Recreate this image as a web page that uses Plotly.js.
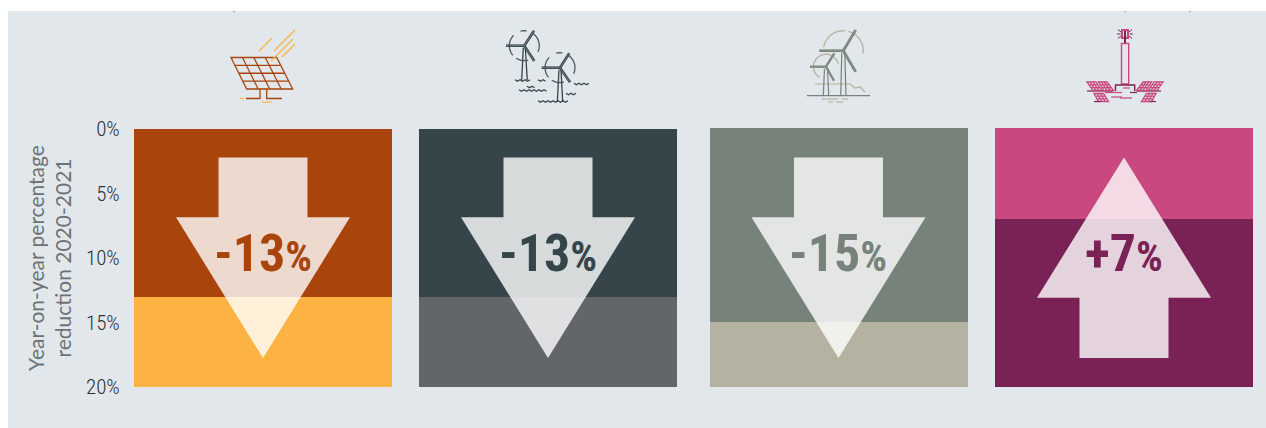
<!DOCTYPE html>
<html>
<head>
<meta charset="utf-8">
<script src="https://cdn.plot.ly/plotly-3.0.1.min.js"></script>
<style>html,body{margin:0;padding:0;background:#fff}#chart{width:1266px;height:428px}</style>
</head>
<body>
<div id="chart"></div>
<script>
// Year-on-year cost changes by renewable technology
const technologies = ['Solar PV', 'Offshore wind', 'Onshore wind', 'Concentrated solar'];
const changes = [-13, -13, -15, 7];
const upperColors = ['#a8440c', '#36454a', '#76827a', '#c8487f'];
const lowerColors = ['#fdb343', '#626569', '#b5b2a2', '#7a2255'];
const labelColors = ['#a8440c', '#36454a', '#76827a', '#7a2255'];
const tickValues = [0, 5, 10, 15, 20];
const tickLabels = ['0%', '5%', '10%', '15%', '20%'];
const axisMax = 20;

const W = 1266, H = 428;
const panelEdges = [[134, 392], [419, 677], [710, 968], [995, 1253]];
const panelTops = [129, 129, 128, 128];
const panelBottom = 387;
const arrowCentres = [263, 548, 838.5, 1124];

const px = x => (x / W).toFixed(6);
const py = y => (1 - y / H).toFixed(6);
const shapes = [];

function addPath(d, opts) {
  shapes.push(Object.assign({type: 'path', xref: 'paper', yref: 'paper', path: d, layer: 'above'}, opts));
}
function stroke(points, color, width, closed) {
  const d = points.map((p, i) => (i ? 'L' : 'M') + px(p[0]) + ' ' + py(p[1])).join(' ') + (closed ? ' Z' : '');
  addPath(d, {line: {color: color, width: width === undefined ? 1.3 : width}});
}
function arc(cx, cy, r, a0, a1, color, width) {
  const pts = [];
  for (let a = a0; a <= a1 + 0.01; a += 12) {
    pts.push([cx + r * Math.cos(a * Math.PI / 180), cy + r * Math.sin(a * Math.PI / 180)]);
  }
  stroke(pts, color, width);
}
function wave(x0, x1, y, color) {
  const pts = [];
  let up = true;
  for (let x = x0; x <= x1; x += 2.5) { pts.push([x, y + (up ? -0.8 : 0.8)]); up = !up; }
  stroke(pts, color, 1.3);
}
function blade(x0, y0, x1, y1, color, width) {
  stroke([[x0, y0], [x1, y1]], color, width);
  stroke([[x0, y0], [x1, y1]], '#8f9b9c', width * 0.25);
}
// Parallelogram solar module with a cell grid
function solarModule(tl, tr, br, bl, rows, cols, color, width) {
  stroke([tl, tr, br, bl], color, width, true);
  const mix = (a, b, t) => [a[0] + (b[0] - a[0]) * t, a[1] + (b[1] - a[1]) * t];
  for (let r = 1; r < rows; r++) stroke([mix(tl, bl, r / rows), mix(tr, br, r / rows)], color, width);
  for (let c = 1; c < cols; c++) stroke([mix(tl, tr, c / cols), mix(bl, br, c / cols)], color, width);
}

// Backdrop
shapes.push({type: 'rect', xref: 'paper', yref: 'paper', layer: 'below',
  x0: 8 / W, x1: 1, y0: 0, y1: 1 - 11 / H, line: {width: 0}, fillcolor: '#e2e7eb'});

// Direction arrows, semi-transparent over the bars
function arrowPoints(cx, direction) {
  const top = 157.5, bottom = 358;
  if (direction < 0) {
    return [[cx - 44.5, top], [cx + 44.5, top], [cx + 44.5, 217.3], [cx + 87, 217.3], [cx, bottom],
            [cx - 87, 217.3], [cx - 44.5, 217.3]];
  }
  return [[cx, top], [cx + 87, 297.7], [cx + 44.5, 297.7], [cx + 44.5, bottom], [cx - 44.5, bottom],
          [cx - 44.5, 297.7], [cx - 87, 297.7]];
}
changes.forEach((v, i) => {
  const d = arrowPoints(arrowCentres[i], v).map((p, k) => (k ? 'L' : 'M') + px(p[0]) + ' ' + py(p[1])).join(' ') + ' Z';
  addPath(d, {fillcolor: 'rgba(255,255,255,0.8)', line: {width: 0}});
});

// Solar panel icon
const rust = '#a8440c', amber = '#fdb343';
solarModule([231, 57.5], [276.7, 57.5], [292.7, 89], [246.7, 89], 4, 4, rust, 1.3);
stroke([[246, 98.5], [260, 98.5], [260, 89]], rust, 1.3);
stroke([[282, 98.5], [266.7, 98.5], [266.7, 89]], rust, 1.3);
[[[259, 51], [272, 38]], [[274, 51], [295, 30]], [[271, 61], [293, 39]], [[282, 57], [295, 44]],
 [[240, 98.5], [244, 98.5]], [[262, 102], [272, 102]]].forEach(s => stroke(s, amber, 1.2));

// Offshore wind icon
const slate = '#36454a';
[[524.3, 45.7, 506, 45.7, 534, 30.7, 534.3, 61, 521.7, 527.3, 80],
 [560, 67.7, 541.7, 67.7, 569.3, 53.3, 570, 82.3, 557.3, 562.7, 102]].forEach(t => {
  blade(t[0], t[1], t[2], t[3], slate, 2.6);
  blade(t[0], t[1], t[4], t[5], slate, 2.6);
  blade(t[0], t[1], t[6], t[7], slate, 2.6);
  stroke([[t[0] - 1, t[1] + 2], [t[8], t[10]]], slate, 1.3);
  stroke([[t[0] + 1, t[1] + 2], [t[9], t[10]]], slate, 1.3);
  arc(t[0], t[1], 15, -60, 25, '#4c5a5f', 1.3);
  arc(t[0], t[1], 15, 75, 125, '#4c5a5f', 1.3);
  arc(t[0], t[1], 15, 140, 235, '#4c5a5f', 1.3);
  arc(t[0], t[1], 15, 255, 285, '#4c5a5f', 1.3);
});
wave(515, 532, 80.5, slate);
wave(538, 547, 80.5, slate);
wave(519, 547, 90.5, slate);
wave(527, 535, 87, slate);
wave(574, 590, 84, slate);
wave(566, 578, 94, slate);
wave(538, 570, 101.5, slate);

// Onshore wind icon
const sage = '#76827a', sand = '#b5b2a2';
arc(843.3, 50.7, 20, -75, 20, sand, 1.3);
arc(843.3, 50.7, 20, 190, 285, sand, 1.3);
arc(826, 66.7, 12.5, 120, 350, sand, 1.3);
stroke([[815, 84], [843, 84], [850, 84], [855, 88], [860, 87], [865, 92]], sand, 1.2);
stroke([[822, 99], [838, 99]], sand, 1.2);
stroke([[842, 99], [848, 99]], sand, 1.2);
stroke([[828, 102], [833, 102]], sand, 1.2);
stroke([[836, 102], [843, 102]], sand, 1.2);
[[843.3, 50.7, 819.3, 50.7, 855.7, 30, 855.7, 71.7, 840.7, 846, 95.7, 2.7],
 [826, 66.7, 810, 66.7, 834.3, 53.3, 834, 80.7, 823.3, 828.7, 95.7, 2.3]].forEach(t => {
  blade(t[0], t[1], t[2], t[3], sage, t[11]);
  blade(t[0], t[1], t[4], t[5], sage, t[11]);
  blade(t[0], t[1], t[6], t[7], sage, t[11]);
  stroke([[t[0] - 1.5, t[1] + 2], [t[8], t[10]]], sage, 1.2);
  stroke([[t[0] + 1.5, t[1] + 2], [t[9], t[10]]], sage, 1.2);
});
stroke([[807, 95.7], [870, 95.7]], sage, 1.3);

// Solar tower icon
const rose = '#c8487f', plum = '#7a2255';
stroke([[1121.5, 43.5], [1128.7, 43.5], [1128.7, 84], [1121.5, 84]], rose, 1.4, true);
stroke([[1122, 30], [1128, 30], [1128, 38], [1122, 38]], rose, 2, true);
stroke([[1125, 31], [1125, 43]], plum, 2);
[[[1118, 29.5], [1121, 32]], [[1117, 34], [1120.5, 34]], [[1118, 38.5], [1121, 36]],
 [[1132, 29.5], [1129, 32]], [[1133, 34], [1129.5, 34]], [[1132, 38.5], [1129, 36]]].forEach(s => stroke(s, plum, 1));
stroke([[1115.5, 91], [1115.5, 85], [1134.7, 85], [1134.7, 91]], plum, 1.4);
stroke([[1087, 91], [1113, 91]], plum, 1.2);
stroke([[1137, 91], [1161, 91]], plum, 1.2);
[[1087, 1096, 1102, 1093, 82, 90.5], [1098.5, 1107, 1113.5, 1104, 82, 90.5],
 [1094, 1103.5, 1108.5, 1098.5, 93.5, 101.5]].forEach(m => {
  solarModule([m[0], m[4]], [m[1], m[4]], [m[2], m[5]], [m[3], m[5]], 3, 3, rose, 1.3);
  const mirror = x => 2250 - x;
  solarModule([mirror(m[1]), m[4]], [mirror(m[0]), m[4]], [mirror(m[3]), m[5]], [mirror(m[2]), m[5]], 3, 3, rose, 1.3);
});
stroke([[1094, 101.5], [1100, 101.5]], plum, 1.2);
stroke([[1150, 101.5], [1156, 101.5]], plum, 1.2);
stroke([[1105, 92.5], [1122, 92.5]], rose, 1.2);
stroke([[1123, 88], [1130, 88]], rose, 1.2);
stroke([[1111, 97], [1122, 97]], rose, 1.2);
stroke([[1120, 98], [1132, 98]], rose, 1.2);
stroke([[1130, 92.5], [1137, 92.5]], plum, 1.2);

// Stray edge marks along the top of the backdrop
[234, 1125, 1190].forEach(x => stroke([[x - 1, 11.5], [x + 1, 11.5]], '#a9adb0', 1));

// Bars: the changed share on top, the remainder of the scale underneath
const traces = [];
technologies.forEach((name, i) => {
  const n = i + 1;
  const xa = n === 1 ? 'x' : 'x' + n;
  const ya = i < 2 ? 'y' : 'y2';
  const size = Math.abs(changes[i]);
  traces.push({type: 'bar', x: [name], y: [size], xaxis: xa, yaxis: ya, width: 1,
    marker: {color: upperColors[i], line: {width: 0}}, hoverinfo: 'skip', showlegend: false});
  traces.push({type: 'bar', x: [name], y: [axisMax - size], xaxis: xa, yaxis: ya, width: 1,
    marker: {color: lowerColors[i], line: {width: 0}}, hoverinfo: 'skip', showlegend: false});
});

const narrowFont = '"Roboto Condensed",Roboto,sans-serif';
const textFont = 'Lato,"Noto Sans",sans-serif';
const annotations = changes.map((v, i) => ({
  xref: 'paper', yref: 'paper', x: (arrowCentres[i] - 0.5) / W, y: 1 - 253 / H,
  xanchor: 'center', yanchor: 'middle', showarrow: false,
  text: '<b>' + (v > 0 ? '+' : '-') + Math.abs(v) + '<span style="font-size:42px">%</span></b>',
  font: {family: narrowFont, size: 52, color: labelColors[i]}
}));

const layout = {
  width: W, height: H, margin: {l: 0, r: 0, t: 0, b: 0},
  paper_bgcolor: '#ffffff', plot_bgcolor: 'rgba(0,0,0,0)',
  barmode: 'stack', bargap: 0, showlegend: false, shapes: shapes, annotations: annotations,
  font: {family: textFont},
  yaxis: {
    domain: [1 - panelBottom / H, 1 - panelTops[0] / H], range: [axisMax, 0], anchor: 'x',
    tickmode: 'array', tickvals: tickValues, ticktext: tickLabels,
    ticks: 'outside', ticklen: 9, tickcolor: 'rgba(0,0,0,0)', showgrid: false, zeroline: false, showline: false,
    tickfont: {family: narrowFont, size: 21, weight: 300, color: '#2b3033'},
    automargin: false,
    title: {text: 'Year-on-year percentage<br>reduction 2020-2021', standoff: 8,
      font: {family: textFont, size: 21, color: '#6c7276'}}
  },
  yaxis2: {
    domain: [1 - panelBottom / H, 1 - panelTops[2] / H], range: [axisMax, 0], anchor: 'x3',
    visible: false, showgrid: false, zeroline: false
  }
};
technologies.forEach((name, i) => {
  const key = i === 0 ? 'xaxis' : 'xaxis' + (i + 1);
  layout[key] = {
    domain: [panelEdges[i][0] / W, panelEdges[i][1] / W], anchor: i < 2 ? 'y' : 'y2',
    type: 'category', range: [-0.5, 0.5], visible: false, showgrid: false, zeroline: false
  };
});

Plotly.newPlot('chart', traces, layout, {displayModeBar: false, responsive: false});
</script>
</body>
</html>
